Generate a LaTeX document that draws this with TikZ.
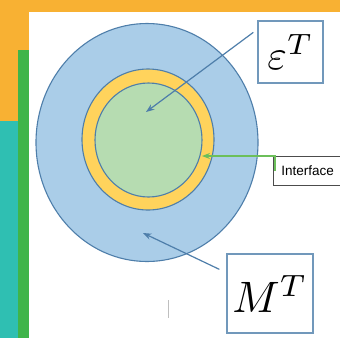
\documentclass[tikz,border=0pt]{standalone}
\usepackage{amsmath}
\usepackage{fontspec}
\newfontfamily\labelfont{Liberation Sans}
\usetikzlibrary{
    shapes.geometric,
    arrows.meta
}
\definecolor{bandorange}{HTML}{F8B133}
\definecolor{bandgreen}{HTML}{3FB54A}
\definecolor{bandteal}{HTML}{2FBFB2}
\definecolor{matrixblue}{HTML}{AACDE8}
\definecolor{edgeblue}{HTML}{4E7EAA}
\definecolor{layeryellow}{HTML}{FFD35C}
\definecolor{coregreen}{HTML}{B6DCB1}
\definecolor{arrowgreen}{HTML}{6CBF5A}
\tikzset{
    >=Stealth,
    phase/.style={
        ellipse,
        draw=edgeblue,
        line width=1.1pt,
        inner sep=0pt
    },
    labelbox/.style={
        draw=edgeblue!80,
        line width=1.3pt,
        fill=white,
        inner sep=0pt
    },
    pointer/.style={
        ->,
        draw=edgeblue,
        line width=1.2pt
    }
}

\begin{document}
\begin{tikzpicture}[
    x=1pt,
    y=-1pt
]
    \useasboundingbox (0,0) rectangle (340,338);

    % Fondo
    \fill[bandorange] (0,0) rectangle (340,12);
    \fill[bandorange] (0,0) rectangle (28.5,121);
    \fill[bandteal]   (0,121) rectangle (17.5,338);
    \fill[bandgreen]  (17.5,50) rectangle (28.5,338);

    % Fases
    \node[phase, fill=matrixblue, minimum width=222, minimum height=238]  (matrix) at (147,142.5) {};
    \node[phase, fill=layeryellow, minimum width=132, minimum height=141] (layer)  at (148,139.5) {};
    \node[phase, fill=coregreen, minimum width=107, minimum height=114]   (core)   at (148.5,140) {};

    % Etiquetas
    \node[labelbox, minimum width=65, minimum height=62] (eps)  at (290.5,52)
        {\scalebox{4.2}{$\varepsilon^{T}$}};
    \node[labelbox, minimum width=86, minimum height=79] (mbox) at (270,293.5)
        {\scalebox{4.4}{$M^{T}$}};
    \node[draw=black!70, line width=0.8pt, fill=white, anchor=west,
          minimum width=80, minimum height=29, inner xsep=8pt, text width=64pt]
          (intf) at (273,170.5) {\labelfont\fontsize{13.5}{15}\selectfont Interface};

    \coordinate (epsTip)  at (146,112);
    \coordinate (mTip)    at (143,233);
    \coordinate (intfTip) at (202,156);

    % Flechas
    \draw[pointer] ([shift={(-4,12)}]eps.north west) -- (epsTip);
    \draw[pointer] ([shift={(-7,16)}]mbox.north west) -- (mTip);
    \draw[->, arrowgreen, line width=1.1pt] ([xshift=2pt]intf.west) |- (intfTip);

    \draw[black!25, line width=0.8pt] (168,300) -- (168,318);

\end{tikzpicture}
\end{document}
